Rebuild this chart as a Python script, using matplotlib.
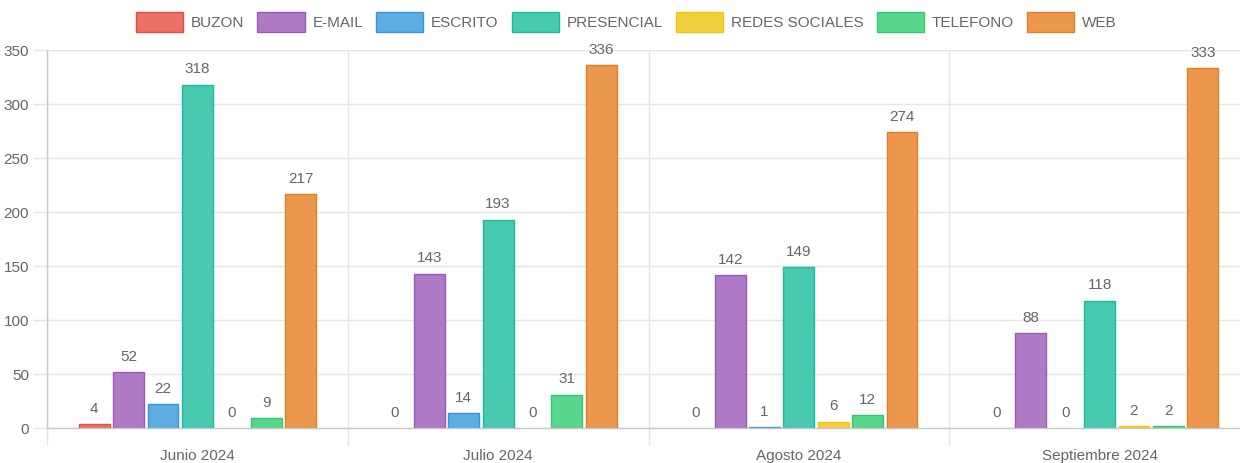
import numpy as np
import matplotlib
matplotlib.use("Agg")
from matplotlib import pyplot as plt

plt.rcParams['font.family'] = ['Liberation Sans', 'DejaVu Sans']

meses = ['Junio 2024', 'Julio 2024', 'Agosto 2024', 'Septiembre 2024']
canales = ['BUZON', 'E-MAIL', 'ESCRITO', 'PRESENCIAL', 'REDES SOCIALES', 'TELEFONO', 'WEB']

buzon = [4, 0, 0, 0]
email = [52, 143, 142, 88]
escrito = [22, 14, 1, 0]
presencial = [318, 193, 149, 118]
redes = [0, 0, 6, 2]
telefono = [9, 31, 12, 2]
web = [217, 336, 274, 333]
series = [buzon, email, escrito, presencial, redes, telefono, web]

relleno = ['#ec7063', '#af7ac5', '#5dade2', '#48c9b0', '#f4d03f', '#58d68d', '#eb984e']
borde = ['#e74c3c', '#9b59b6', '#3498db', '#1abc9c', '#f1c40f', '#2ecc71', '#e67e22']

txt = '#666666'
grid = '#e5e5e5'
eje = '#c8c8c8'
fs = 11

fig = plt.figure(figsize=(12.4, 4.63), dpi=100)
ax = fig.add_axes([47 / 1240, 35 / 463, 1203 / 1240, 378 / 463])

x = np.arange(len(meses))
n = len(series)
slot = 0.8 / n
ancho = slot * 0.9
for i, vals in enumerate(series):
    pos = x + (i - (n - 1) / 2) * slot
    lw = [0 if v == 0 else 1 for v in vals]
    ax.bar(pos, vals, width=ancho, color=relleno[i], edgecolor=borde[i],
           linewidth=lw, label=canales[i], zorder=3)
    for px, v in zip(pos, vals):
        ax.annotate(str(v), (px, v), xytext=(0, 8), textcoords='offset points',
                    ha='center', va='baseline', fontsize=fs, color=txt)

ax.set_xlim(-0.5, len(meses) - 0.5)
ax.set_ylim(0, 350)
ax.set_yticks(np.arange(0, 351, 50))

# lineas verticales entre meses, etiquetas al centro
ax.set_xticks(np.arange(-0.5, len(meses)), labels=[''] * (len(meses) + 1))
ax.set_xticks(x, labels=meses, minor=True)
ax.tick_params(axis='x', which='major', length=12, color=grid, width=1)
ax.tick_params(axis='x', which='minor', length=0, pad=15, labelsize=fs, labelcolor=txt)
ax.tick_params(axis='y', length=10, color=grid, width=1, labelsize=fs, labelcolor=txt, pad=3)

ax.grid(True, which='major', color=grid, linewidth=1, zorder=0)
for s in ['top', 'right']:
    ax.spines[s].set_visible(False)
for s in ['left', 'bottom']:
    ax.spines[s].set_color(eje)
    ax.spines[s].set_linewidth(1)
    ax.spines[s].set_zorder(4)

leg = fig.legend(loc='upper center', bbox_to_anchor=(0.505, 1.0), ncol=7, frameon=False,
                 fontsize=fs, labelcolor=txt, handlelength=3.1, handleheight=1.6,
                 handletextpad=0.5, columnspacing=0.85, borderaxespad=0.4)
for h in leg.legend_handles:
    h.set_linewidth(1)

fig.savefig('out.png', dpi=100)
